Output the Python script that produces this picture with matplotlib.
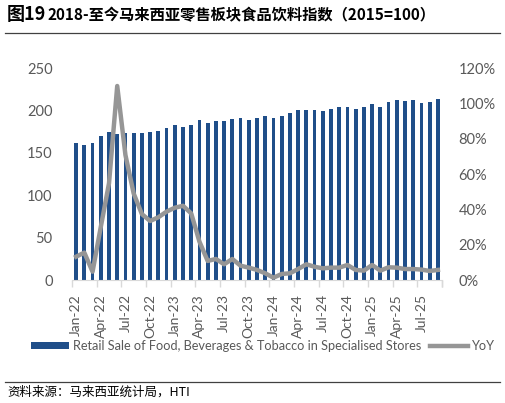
import numpy as np
import matplotlib.pyplot as plt
from matplotlib.ticker import FuncFormatter

# monthly data, Jan-22 .. Sep-25
months = ["Jan-22", "Feb-22", "Mar-22", "Apr-22", "May-22", "Jun-22", "Jul-22", "Aug-22", "Sep-22",
          "Oct-22", "Nov-22", "Dec-22", "Jan-23", "Feb-23", "Mar-23", "Apr-23", "May-23", "Jun-23",
          "Jul-23", "Aug-23", "Sep-23", "Oct-23", "Nov-23", "Dec-23", "Jan-24", "Feb-24", "Mar-24",
          "Apr-24", "May-24", "Jun-24", "Jul-24", "Aug-24", "Sep-24", "Oct-24", "Nov-24", "Dec-24",
          "Jan-25", "Feb-25", "Mar-25", "Apr-25", "May-25", "Jun-25", "Jul-25", "Aug-25", "Sep-25"]

index_vals = [162, 159, 161.5, 170, 174, 172, 173, 173, 173, 174.5, 176, 179, 182.7, 181, 182.4,
              188.7, 184.7, 187, 187, 189.5, 190.6, 188.7, 191.6, 193.8, 191.4, 193.8, 196.9,
              200, 200, 200.5, 198.9, 201.7, 203.6, 204.4, 201.7, 203.6, 207.5, 203.6, 210.3,
              212.7, 211, 212.3, 208.7, 210.3, 213.8]

yoy = [13.2, 15.5, 4.7, 30, 54.7, 109.8, 70.7, 49, 37.3, 33.4, 35.5, 38.7, 40.9, 42, 37.7,
       21.7, 10.8, 11.9, 8.9, 11.9, 8.1, 7.0, 5.7, 3.8, 1.3, 3.4, 3.8, 6.2, 8.9, 7.5,
       6.6, 7.0, 7.0, 8.5, 5.7, 5.3, 8.5, 5.3, 7.2, 7.0, 6.2, 6.2, 5.9, 5.1, 5.7]

bar_label = "Retail Sale of Food, Beverages & Tobacco in Specialised Stores"
line_label = "YoY"
title_head = "图19"
title_rest = "2018-至今马来西亚零售板块食品饮料指数（2015=100）"
source = "资料来源：马来西亚统计局，HTI"

plt.rcParams['font.family'] = ['Lato', 'Noto Sans CJK SC', 'DejaVu Sans']
grey_txt = '#595959'
bar_col = '#1f4e89'
line_col = '#969696'

fig = plt.figure(figsize=(5.06, 4.03), dpi=100)
W, H = 506, 403
ax = fig.add_axes([72 / W, 1 - 280 / H, (442 - 72) / W, (280 - 68) / H])
ax2 = ax.twinx()

x = np.arange(len(months))
bars = ax.bar(x, index_vals, width=0.45, color=bar_col, label=bar_label, zorder=2)
line, = ax2.plot(x, yoy, color=line_col, lw=3.2, solid_joinstyle='round', label=line_label, zorder=3)

ax.set_xlim(-0.5, len(months) - 0.5)
ax.set_ylim(0, 250)
ax2.set_ylim(0, 120)
ax.set_yticks(np.arange(0, 251, 50))
ax2.set_yticks(np.arange(0, 121, 20))
ax2.yaxis.set_major_formatter(FuncFormatter(lambda v, p: "%d%%" % v))

# tick marks on category boundaries, labels on every third month
ax.set_xticks(np.append(np.arange(-0.5, len(months), 3), len(months) - 0.5))
ax.set_xticklabels([])
ax.tick_params(axis='x', which='major', length=5, color='#d9d9d9', width=1)
ax.set_xticks(x[::3], minor=True)
ax.set_xticklabels(months[::3], minor=True, rotation=90, fontsize=10, color=grey_txt)
ax.tick_params(axis='x', which='minor', length=0, pad=10)

ax.tick_params(axis='y', length=0, pad=14, labelsize=10.5, labelcolor=grey_txt)
ax2.tick_params(axis='y', length=0, pad=12, labelsize=10.5, labelcolor=grey_txt)

for a in (ax, ax2):
    for s in ['top', 'left', 'right']:
        a.spines[s].set_visible(False)
ax.spines['bottom'].set_color('#d9d9d9')
ax2.spines['bottom'].set_visible(False)

fig.legend([bars, line], [bar_label, line_label], ncol=2, loc='center',
           bbox_to_anchor=(263 / W, 1 - 346 / H), frameon=False, fontsize=9.2,
           labelcolor=grey_txt, handlelength=3.0, handleheight=0.45, columnspacing=0.7,
           handletextpad=0.3)

# title and rules
fig.text(7 / W, 1 - 15 / H, title_head, fontsize=13, fontweight='bold', va='center',
         family=['Noto Sans CJK SC'])
fig.text(48 / W, 1 - 15.5 / H, title_rest, fontsize=11, fontweight='bold', va='center',
         family=['Noto Sans CJK SC'])
fig.add_artist(plt.Line2D([5 / W, 500 / W], [1 - 33 / H, 1 - 33 / H], color='#404040', lw=0.9))
fig.add_artist(plt.Line2D([5 / W, 500 / W], [1 - 382 / H, 1 - 382 / H], color='#404040', lw=0.9))
fig.text(7 / W, 1 - 392 / H, source, fontsize=9, va='center', family=['Noto Sans CJK SC'])

fig.savefig("out.png", dpi=100)
